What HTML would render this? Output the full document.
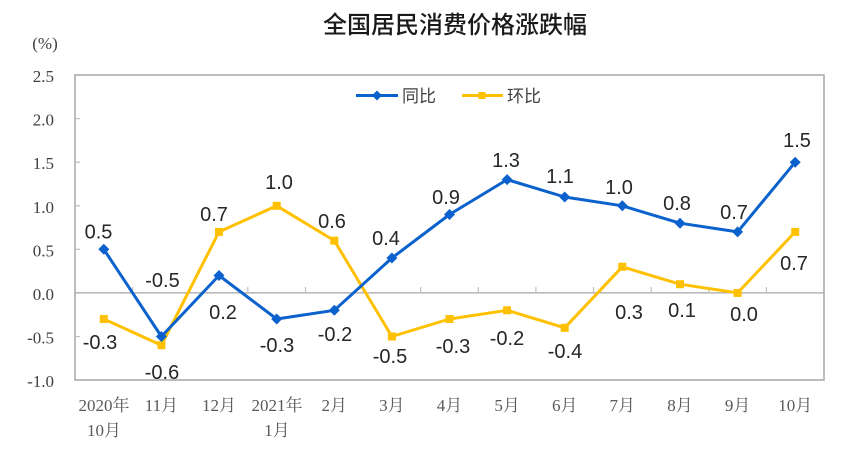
<!DOCTYPE html>
<html><head><meta charset="utf-8"><style>
html,body{margin:0;padding:0;background:#fff;}
svg{display:block;}
.t{font-family:"Liberation Sans","Noto Sans CJK SC",sans-serif;}
.dl{font-family:"Liberation Sans",Arial,sans-serif;font-size:20px;fill:#262626;text-anchor:middle;}
.yl{font-family:"Liberation Serif","Noto Serif CJK SC",serif;font-size:17px;fill:#404040;text-anchor:end;}
.xl{font-family:"Liberation Serif","Noto Serif CJK SC",serif;font-size:17px;fill:#595959;text-anchor:middle;}
</style></head><body>
<svg width="844" height="454" viewBox="0 0 844 454" xmlns="http://www.w3.org/2000/svg">
<rect width="844" height="454" fill="#fff"/>
<text x="455" y="33" class="t" font-size="24" fill="#1a1a1a" text-anchor="middle" font-weight="500">全国居民消费价格涨跌幅</text>
<text x="45" y="49" class="yl" style="text-anchor:middle" font-size="16">(%)</text>
<!-- plot border -->
<rect x="75" y="75" width="749" height="305" fill="none" stroke="#a6a6a6" stroke-width="1.5"/>
<!-- zero line -->
<line x1="75" y1="292.9" x2="824" y2="292.9" stroke="#a6a6a6" stroke-width="1.3"/>
<!-- y ticks -->
<g stroke="#bfbfbf" stroke-width="1.2">
<line x1="75" y1="118.6" x2="80" y2="118.6"/>
<line x1="75" y1="162.2" x2="80" y2="162.2"/>
<line x1="75" y1="205.8" x2="80" y2="205.8"/>
<line x1="75" y1="249.3" x2="80" y2="249.3"/>
<line x1="75" y1="336.5" x2="80" y2="336.5"/>
</g>
<!-- x ticks on zero line -->
<g stroke="#bfbfbf" stroke-width="1.2">
<line x1="132.6" y1="287" x2="132.6" y2="293"/>
<line x1="190.2" y1="287" x2="190.2" y2="293"/>
<line x1="247.8" y1="287" x2="247.8" y2="293"/>
<line x1="305.5" y1="287" x2="305.5" y2="293"/>
<line x1="363.1" y1="287" x2="363.1" y2="293"/>
<line x1="420.7" y1="287" x2="420.7" y2="293"/>
<line x1="478.3" y1="287" x2="478.3" y2="293"/>
<line x1="535.9" y1="287" x2="535.9" y2="293"/>
<line x1="593.5" y1="287" x2="593.5" y2="293"/>
<line x1="651.2" y1="287" x2="651.2" y2="293"/>
<line x1="708.8" y1="287" x2="708.8" y2="293"/>
<line x1="766.4" y1="287" x2="766.4" y2="293"/>
</g>
<!-- y labels -->
<text x="54" y="82" class="yl">2.5</text>
<text x="54" y="125.6" class="yl">2.0</text>
<text x="54" y="169.2" class="yl">1.5</text>
<text x="54" y="212.8" class="yl">1.0</text>
<text x="54" y="256.3" class="yl">0.5</text>
<text x="54" y="299.9" class="yl">0.0</text>
<text x="54" y="343.5" class="yl">-0.5</text>
<text x="54" y="387" class="yl">-1.0</text>
<!-- x labels -->
<text x="104" y="411" class="xl">2020年</text>
<text x="104" y="436" class="xl">10月</text>
<text x="161.4" y="411" class="xl">11月</text>
<text x="219" y="411" class="xl">12月</text>
<text x="277" y="411" class="xl">2021年</text>
<text x="277" y="436" class="xl">1月</text>
<text x="334.3" y="411" class="xl">2月</text>
<text x="391.9" y="411" class="xl">3月</text>
<text x="449.5" y="411" class="xl">4月</text>
<text x="507.1" y="411" class="xl">5月</text>
<text x="564.7" y="411" class="xl">6月</text>
<text x="622.3" y="411" class="xl">7月</text>
<text x="680" y="411" class="xl">8月</text>
<text x="737.6" y="411" class="xl">9月</text>
<text x="795.2" y="411" class="xl">10月</text>
<!-- yellow series -->
<polyline fill="none" stroke="#ffc000" stroke-width="3" stroke-linejoin="round" points="103.8,319 161.4,345.2 219,231.9 276.7,205.8 334.3,240.6 391.9,336.5 449.5,319 507.1,310.3 564.7,327.8 622.3,266.8 680,284.2 737.6,292.9 795.2,231.9"/>
<g fill="#ffc000">
<rect x="99.8" y="315" width="8" height="8"/>
<rect x="157.4" y="341.2" width="8" height="8"/>
<rect x="215" y="227.9" width="8" height="8"/>
<rect x="272.7" y="201.8" width="8" height="8"/>
<rect x="330.3" y="236.6" width="8" height="8"/>
<rect x="387.9" y="332.5" width="8" height="8"/>
<rect x="445.5" y="315" width="8" height="8"/>
<rect x="503.1" y="306.3" width="8" height="8"/>
<rect x="560.7" y="323.8" width="8" height="8"/>
<rect x="618.3" y="262.8" width="8" height="8"/>
<rect x="676" y="280.2" width="8" height="8"/>
<rect x="733.6" y="288.9" width="8" height="8"/>
<rect x="791.2" y="227.9" width="8" height="8"/>
</g>
<!-- blue series -->
<polyline fill="none" stroke="#0b62cc" stroke-width="3" stroke-linejoin="round" points="103.8,249.3 161.4,336.5 219,275.5 276.7,319 334.3,310.3 391.9,258 449.5,214.5 507.1,179.6 564.7,197 622.3,205.8 680,223.2 737.6,231.9 795.2,162.2"/>
<g fill="#0b62cc">
<path d="M103.8,243.8 l5.5,5.5 l-5.5,5.5 l-5.5,-5.5z"/>
<path d="M161.4,331 l5.5,5.5 l-5.5,5.5 l-5.5,-5.5z"/>
<path d="M219,270 l5.5,5.5 l-5.5,5.5 l-5.5,-5.5z"/>
<path d="M276.7,313.5 l5.5,5.5 l-5.5,5.5 l-5.5,-5.5z"/>
<path d="M334.3,304.8 l5.5,5.5 l-5.5,5.5 l-5.5,-5.5z"/>
<path d="M391.9,252.5 l5.5,5.5 l-5.5,5.5 l-5.5,-5.5z"/>
<path d="M449.5,209 l5.5,5.5 l-5.5,5.5 l-5.5,-5.5z"/>
<path d="M507.1,174.1 l5.5,5.5 l-5.5,5.5 l-5.5,-5.5z"/>
<path d="M564.7,191.5 l5.5,5.5 l-5.5,5.5 l-5.5,-5.5z"/>
<path d="M622.3,200.3 l5.5,5.5 l-5.5,5.5 l-5.5,-5.5z"/>
<path d="M680,217.7 l5.5,5.5 l-5.5,5.5 l-5.5,-5.5z"/>
<path d="M737.6,226.4 l5.5,5.5 l-5.5,5.5 l-5.5,-5.5z"/>
<path d="M795.2,156.7 l5.5,5.5 l-5.5,5.5 l-5.5,-5.5z"/>
</g>
<!-- legend -->
<line x1="356" y1="95.5" x2="398" y2="95.5" stroke="#0b62cc" stroke-width="3"/>
<path d="M377,90.5 l5,5 l-5,5 l-5,-5z" fill="#0b62cc"/>
<text x="402" y="102" class="t" font-size="17" fill="#404040">同比</text>
<line x1="462" y1="95.5" x2="503" y2="95.5" stroke="#ffc000" stroke-width="3"/>
<rect x="478.5" y="92" width="7" height="7" fill="#ffc000"/>
<text x="507" y="102" class="t" font-size="17" fill="#404040">环比</text>
<!-- blue labels -->
<text x="98.5" y="238.5" class="dl">0.5</text>
<text x="162.5" y="287" class="dl">-0.5</text>
<text x="223" y="319" class="dl">0.2</text>
<text x="277" y="352" class="dl">-0.3</text>
<text x="335" y="341" class="dl">-0.2</text>
<text x="386" y="245" class="dl">0.4</text>
<text x="446" y="204" class="dl">0.9</text>
<text x="506" y="167" class="dl">1.3</text>
<text x="560" y="183" class="dl">1.1</text>
<text x="619" y="194" class="dl">1.0</text>
<text x="677" y="210" class="dl">0.8</text>
<text x="734" y="219" class="dl">0.7</text>
<text x="797" y="147" class="dl">1.5</text>
<!-- yellow labels -->
<text x="100" y="349" class="dl">-0.3</text>
<text x="162" y="379" class="dl">-0.6</text>
<text x="214" y="221" class="dl">0.7</text>
<text x="279" y="189" class="dl">1.0</text>
<text x="332" y="228" class="dl">0.6</text>
<text x="390" y="363" class="dl">-0.5</text>
<text x="453" y="353" class="dl">-0.3</text>
<text x="507" y="345" class="dl">-0.2</text>
<text x="565" y="358" class="dl">-0.4</text>
<text x="629" y="319" class="dl">0.3</text>
<text x="682" y="317" class="dl">0.1</text>
<text x="744" y="321" class="dl">0.0</text>
<text x="794" y="270" class="dl">0.7</text>
</svg>
</body></html>
